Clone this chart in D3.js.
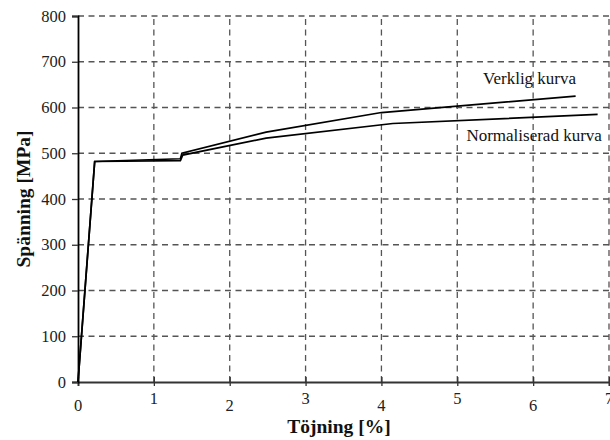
<!DOCTYPE html>
<head>
	<meta charset="utf-8">
	<title>Spänning-töjning</title>
	<script src="https://d3js.org/d3.v7.min.js"></script>
	<style>
	body { margin:0; background:#ffffff; }
	svg { font-family:"Liberation Serif","Times New Roman",serif; }
	.grid line { stroke:#555555; stroke-width:1.3; stroke-dasharray:6,4.5; }
	.curve { fill:none; stroke:#000000; stroke-width:1.7; }
	.ticklabel { font-size:16.5px; fill:#222222; font-family:"Liberation Serif","Times New Roman",serif; }
	.annot { font-size:17px; fill:#111111; }
	.title { font-size:19.5px; font-weight:bold; fill:#111111; }
	</style>
</head>
<body>
<div class="chartContainer"></div>
<script>
// curve data (strain in %, stress in MPa)
var verkligStrain = [0, 0.22, 1.35, 1.37, 2.48, 4.0, 6.56];
var verkligStress = [0, 482, 488, 500, 546, 589, 625];
var normStrain = [0, 0.22, 1.35, 1.38, 2.48, 4.15, 6.85];
var normStress = [0, 482, 484, 496, 533, 565, 585];

var xTicks = [0, 1, 2, 3, 4, 5, 6, 7];
var yTicks = [0, 100, 200, 300, 400, 500, 600, 700, 800];

var labels = [
	{text:"Verklig kurva", x:5.34, y:651},
	{text:"Normaliserad kurva", x:5.12, y:527}
];

var totalWidth = 610, totalHeight = 440;

var x = d3.scaleLinear().domain([0, 7]).range([78, 609]);
var y = d3.scaleLinear().domain([0, 800]).range([382, 16]);

var svg = d3.select(".chartContainer").append("svg")
	.attr("width", totalWidth)
	.attr("height", totalHeight);

// dashed grid
var grid = svg.append("g").attr("class", "grid");
grid.selectAll(".hgrid")
	.data(yTicks.filter(function(d) { return d > 0; }))
	.enter().append("line")
	.attr("x1", x(0)).attr("x2", x(7))
	.attr("y1", function(d) { return y(d); })
	.attr("y2", function(d) { return y(d); });
grid.selectAll(".vgrid")
	.data(xTicks.filter(function(d) { return d > 0; }))
	.enter().append("line")
	.attr("y1", y(0)).attr("y2", y(800))
	.attr("x1", function(d) { return x(d); })
	.attr("x2", function(d) { return x(d); });

// axes
var xAxis = d3.axisBottom(x).tickValues(xTicks).tickSize(4).tickFormat("");
var yAxis = d3.axisLeft(y).tickValues(yTicks).tickSize(6).tickFormat("");

var gx = svg.append("g")
	.attr("transform", "translate(0," + y(0) + ")")
	.call(xAxis);
gx.select(".domain").attr("stroke", "#333333").attr("stroke-width", 1.8);
gx.selectAll(".tick line").attr("stroke", "#333333").attr("stroke-width", 1.3).attr("y1", -5);

var gy = svg.append("g")
	.attr("transform", "translate(" + x(0) + ",0)")
	.call(yAxis);
gy.select(".domain").attr("stroke", "#000000").attr("stroke-width", 1.8);
gy.selectAll(".tick line").attr("stroke", "#333333").attr("stroke-width", 1.3);

// tick labels (x labels alternate in height as in the original)
svg.selectAll(".xlab")
	.data(xTicks)
	.enter().append("text")
	.attr("class", "ticklabel")
	.attr("text-anchor", "middle")
	.attr("x", function(d) { return x(d); })
	.attr("y", function(d) { return d % 2 ? 404 : 411; })
	.text(function(d) { return d; });

svg.selectAll(".ylab")
	.data(yTicks)
	.enter().append("text")
	.attr("class", "ticklabel")
	.attr("text-anchor", "end")
	.attr("x", 66)
	.attr("y", function(d) { return y(d) + 5.5; })
	.text(function(d) { return d; });

// curves
var line = d3.line()
	.x(function(d) { return x(d[0]); })
	.y(function(d) { return y(d[1]); });

svg.append("path")
	.attr("class", "curve")
	.attr("d", line(d3.zip(verkligStrain, verkligStress)));
svg.append("path")
	.attr("class", "curve")
	.attr("d", line(d3.zip(normStrain, normStress)));

// annotations
svg.selectAll(".annot")
	.data(labels)
	.enter().append("text")
	.attr("class", "annot")
	.attr("x", function(d) { return x(d.x); })
	.attr("y", function(d) { return y(d.y); })
	.text(function(d) { return d.text; });

// axis titles
svg.append("text")
	.attr("class", "title")
	.attr("text-anchor", "middle")
	.attr("x", 339)
	.attr("y", 433)
	.text("Töjning [%]");

svg.append("text")
	.attr("class", "title")
	.attr("text-anchor", "middle")
	.attr("transform", "translate(30," + y(400) + ") rotate(-90)")
	.text("Spänning [MPa]");
</script>
</body>
</html>
